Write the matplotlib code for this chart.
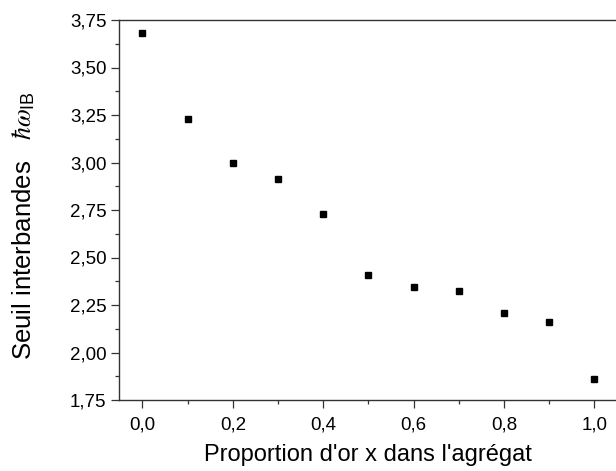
import matplotlib
matplotlib.use("Agg")
import matplotlib.pyplot as plt
from matplotlib.ticker import MultipleLocator, FuncFormatter

# gold fraction x in the cluster vs interband threshold (eV)
x_gold = [0.0, 0.1, 0.2, 0.3, 0.4, 0.5, 0.6, 0.7, 0.8, 0.9, 1.0]
seuil = [3.683, 3.229, 2.999, 2.911, 2.731, 2.410, 2.343, 2.322, 2.208, 2.161, 1.863]

plt.rcParams["font.family"] = ["Liberation Sans", "DejaVu Sans"]
plt.rcParams["mathtext.fontset"] = "custom"
plt.rcParams["mathtext.rm"] = "Liberation Sans"
plt.rcParams["mathtext.it"] = "STIXGeneral:italic"
plt.rcParams["mathtext.fallback"] = "stix"

fig = plt.figure(figsize=(6.16, 4.71), dpi=100)
ax = fig.add_axes([119 / 616, 71 / 471, 497 / 616, 380 / 471])

ax.plot(x_gold, seuil, ls="none", marker="s", ms=4.6, color="black")

ax.set_xlim(-0.052, 1.048)
ax.set_ylim(1.75, 3.75)
ax.xaxis.set_major_locator(MultipleLocator(0.2))
ax.xaxis.set_minor_locator(MultipleLocator(0.1))
ax.yaxis.set_major_locator(MultipleLocator(0.25))
ax.yaxis.set_minor_locator(MultipleLocator(0.125))
ax.xaxis.set_major_formatter(FuncFormatter(lambda v, p: f"{v:.1f}".replace(".", ",")))
ax.yaxis.set_major_formatter(FuncFormatter(lambda v, p: f"{v:.2f}".replace(".", ",")))

ax.tick_params(which="both", direction="out", colors="#333333", labelcolor="black",
               labelsize=13.5, width=0.9, top=False, right=False)
ax.tick_params(which="major", length=6)
ax.tick_params(which="minor", length=3)
ax.tick_params(axis="x", which="major", pad=6)
ax.tick_params(axis="y", which="major", pad=3)
for s in ("left", "bottom", "top"):
    ax.spines[s].set_color("#333333")
    ax.spines[s].set_linewidth(1.0)
ax.spines["right"].set_visible(False)

ax.set_xlabel("Proportion d'or x dans l'agrégat", fontsize=17)
ax.xaxis.set_label_coords(0.501, -0.116)
ax.set_ylabel(r"Seuil interbandes   $\hbar\omega_{\mathrm{IB}}$", fontsize=18.5)
ax.yaxis.set_label_coords(-0.165, 0.46)

fig.savefig("out.png", dpi=100, facecolor="white")
